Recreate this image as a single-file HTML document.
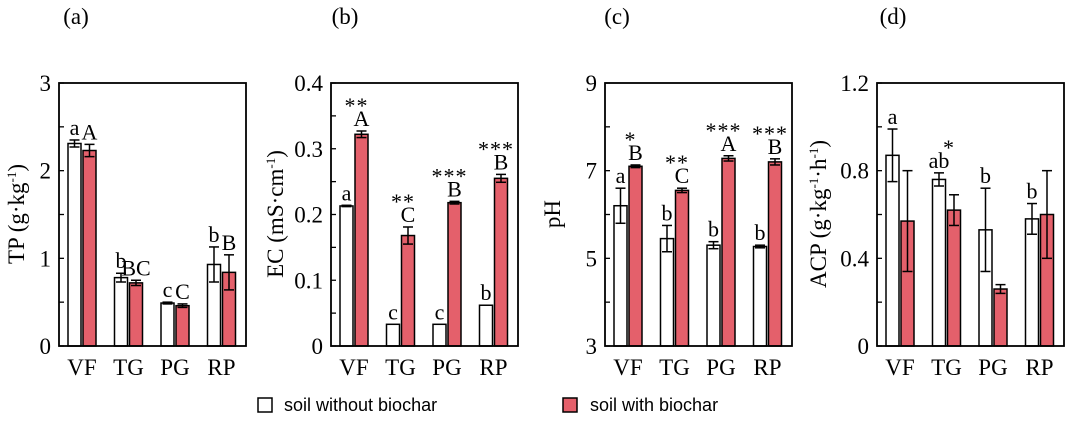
<!DOCTYPE html>
<html><head><meta charset="utf-8"><style>
body{margin:0;background:#fff}
svg{display:block}
.serif{font-family:"Liberation Serif","DejaVu Serif",serif}
.sans{font-family:"Liberation Sans","DejaVu Sans",sans-serif}
</style></head><body>
<svg id="fig" width="1065" height="434" viewBox="0 0 1065 434" font-family="Liberation Serif, serif">
<g font-family="Liberation Sans, sans-serif" class="sans">
<rect x="258" y="398" width="14" height="14" fill="#fff" stroke="#000" stroke-width="1.5"/>
<text x="284" y="411" font-size="18">soil without biochar</text>
<rect x="563" y="398" width="14" height="14" fill="#e4606b" stroke="#000" stroke-width="1.5"/>
<text x="590" y="411" font-size="18">soil with biochar</text>
</g>
</svg>
<script>
const categories = ["VF","TG","PG","RP"];
const tpWhite = [2.31,0.78,0.49,0.93], tpWhiteErr = [0.04,0.05,0.01,0.2];
const tpRed = [2.23,0.72,0.46,0.84], tpRedErr = [0.07,0.03,0.02,0.2];
const tpWhiteLet = ["a","b","c","b"], tpRedLet = ["A","BC","C","B"], tpStars = ["","","",""];
const ecWhite = [0.213,0.033,0.033,0.062], ecWhiteErr = [0.001,0,0,0];
const ecRed = [0.322,0.168,0.218,0.255], ecRedErr = [0.005,0.013,0.002,0.006];
const ecWhiteLet = ["a","c","c","b"], ecRedLet = ["A","C","B","B"], ecStars = ["**","**","***","***"];
const phWhite = [6.2,5.45,5.3,5.27], phWhiteErr = [0.4,0.3,0.08,0.03];
const phRed = [7.1,6.55,7.28,7.2], phRedErr = [0.03,0.05,0.06,0.07];
const phWhiteLet = ["a","b","b","b"], phRedLet = ["B","C","A","B"], phStars = ["*","**","***","***"];
const acpWhite = [0.87,0.76,0.53,0.58], acpWhiteErr = [0.12,0.03,0.19,0.07];
const acpRed = [0.57,0.62,0.26,0.6], acpRedErr = [0.23,0.07,0.02,0.2];
const acpWhiteLet = ["a","ab","b","b"], acpRedLet = ["","","",""], acpStars = ["","*","",""];
const tpTicks = ["0","1","2","3"], ecTicks = ["0","0.1","0.2","0.3","0.4"], phTicks = ["3","5","7","9"], acpTicks = ["0","0.4","0.8","1.2"];

const NS="http://www.w3.org/2000/svg", svg=document.getElementById('fig');
const SERIF='"Liberation Serif", "DejaVu Serif", serif';
function mk(tag,attrs,parent,txt){const e=document.createElementNS(NS,tag);for(const k in attrs)e.setAttribute(k,attrs[k]);if(tag==='text'){e.setAttribute('class','serif');e.style.fontFamily=SERIF;}if(txt!==undefined)e.textContent=txt;(parent||svg).appendChild(e);return e;}

const panels=[
 {id:"a",left:59,ymin:0,ymax:3,ticks:tpTicks,w:tpWhite,we:tpWhiteErr,r:tpRed,re:tpRedErr,wl:tpWhiteLet,rl:tpRedLet,st:tpStars,title:"TP (g·kg",sup:"-1",tail:")",tx:16,lab:76},
 {id:"b",left:331,ymin:0,ymax:0.4,ticks:ecTicks,w:ecWhite,we:ecWhiteErr,r:ecRed,re:ecRedErr,wl:ecWhiteLet,rl:ecRedLet,st:ecStars,title:"EC (mS·cm",sup:"-1",tail:")",tx:275,lab:345},
 {id:"c",left:605,ymin:3,ymax:9,ticks:phTicks,w:phWhite,we:phWhiteErr,r:phRed,re:phRedErr,wl:phWhiteLet,rl:phRedLet,st:phStars,title:"pH",sup:"",tail:"",tx:552,lab:617},
 {id:"d",left:877,ymin:0,ymax:1.2,ticks:acpTicks,w:acpWhite,we:acpWhiteErr,r:acpRed,re:acpRedErr,wl:acpWhiteLet,rl:acpRedLet,st:acpStars,title:"ACP (g·kg",sup:"-1",tail:"·h",sup2:"-1",tail2:")",tx:818,lab:893}
];
const TOP=83,BOT=346,W=187,BW=13;
panels.forEach(p=>{
 const g=mk('g',{});
 
 
 const y=v=>BOT-(v-p.ymin)/(p.ymax-p.ymin)*(BOT-TOP);
 const pl=mk('text',{x:p.lab,y:24,'font-size':23,'text-anchor':'middle'},g,'('+p.id+')');
 
 
 const n=p.ticks.length-1;
 for(let i=0;i<=2*n;i++){const v=p.ymin+(p.ymax-p.ymin)*i/(2*n);mk('line',{x1:p.left,x2:p.left+5,y1:y(v),y2:y(v),stroke:'#000','stroke-width':1.3},g);}
 p.ticks.forEach((t,i)=>{const v=p.ymin+(p.ymax-p.ymin)*i/n;
  const tl=mk('text',{x:p.left-8,y:y(v)+8,'font-size':23,'text-anchor':'end'},g,t);
  
  });
 const tt=mk('text',{x:0,y:0,'font-size':23,'text-anchor':'middle',transform:`translate(${p.tx+8},214) rotate(-90)`},g);
 
 
 mk('tspan',{},tt,p.title);
 if(p.sup){mk('tspan',{'font-size':13,dy:-8},tt,p.sup);mk('tspan',{dy:8},tt,p.tail);}
 if(p.sup2){mk('tspan',{'font-size':13,dy:-8},tt,p.sup2);mk('tspan',{dy:8},tt,p.tail2);}
 categories.forEach((c,i)=>{
  const xw=p.left+9+46.5*i, xr=xw+15;
  let tops=[];
  [[xw,p.w[i],p.we[i],'#fff',p.wl[i],'white'],[xr,p.r[i],p.re[i],'#e4606b',p.rl[i],'red']].forEach(([x,v,e,f,l,nm])=>{
   const b=mk('rect',{x:x,y:y(v),width:BW,height:BOT-y(v),fill:f,stroke:'#000','stroke-width':1.5},g);
   
   
   const cx=x+BW/2;
   if(e>0){mk('line',{x1:cx,x2:cx,y1:y(v+e),y2:y(v-e),stroke:'#000','stroke-width':1.5},g);
    mk('line',{x1:cx-5,x2:cx+5,y1:y(v+e),y2:y(v+e),stroke:'#000','stroke-width':1.5},g);
    mk('line',{x1:cx-5,x2:cx+5,y1:y(v-e),y2:y(v-e),stroke:'#000','stroke-width':1.5},g);}
   if(l){const lt=mk('text',{x:cx,y:y(v+e)-5,'font-size':22,'text-anchor':'middle'},g,l);
    
    
    tops.push(y(v+e)-21);}
   else tops.push(y(v+e)-2);
  });
  if(p.st[i]){const base=(p.rl[i]?tops[1]:Math.min(tops[0],tops[1]))+17;
   const s=mk('text',{x:xr+BW/2-5,y:base-14,'font-size':22,'text-anchor':'middle','letter-spacing':1},g,p.st[i]);
   
   }
  const xl=mk('text',{x:xw+14,y:375,'font-size':23,'text-anchor':'middle'},g,c);
  
  
 });
 mk('rect',{x:p.left,y:TOP,width:W,height:BOT-TOP,fill:'none',stroke:'#000','stroke-width':1.8},g);
});
</script>
</body></html>
